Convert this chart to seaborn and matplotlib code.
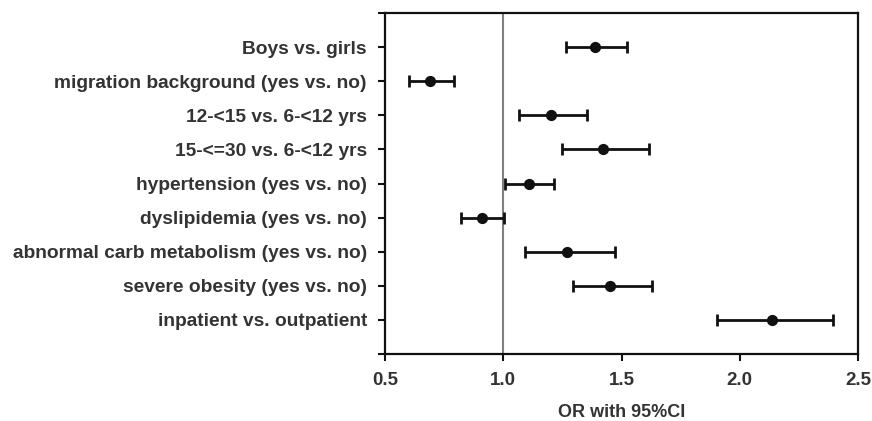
import matplotlib
matplotlib.use("Agg")
import matplotlib.pyplot as plt
import seaborn as sns
import pandas as pd

# -----------------------------
# Данные (OR и 95% ДИ)
# -----------------------------
labels = [
    "Boys vs. girls",
    "migration background (yes vs. no)",
    "12-<15 vs. 6-<12 yrs",
    "15-<=30 vs. 6-<12 yrs",
    "hypertension (yes vs. no)",
    "dyslipidemia (yes vs. no)",
    "abnormal carb metabolism (yes vs. no)",
    "severe obesity (yes vs. no)",
    "inpatient vs. outpatient",
]
odds_ratio = [1.39, 0.69, 1.20, 1.42, 1.11, 0.91, 1.27, 1.45, 2.135]
ci_low     = [1.265, 0.60, 1.067, 1.25, 1.008, 0.82, 1.09, 1.295, 1.905]
ci_high    = [1.525, 0.79, 1.355, 1.618, 1.216, 1.005, 1.474, 1.628, 2.394]
x_ticks    = [0.5, 1.0, 1.5, 2.0, 2.5]

df = pd.DataFrame({"label": labels, "or": odds_ratio,
                   "lo": ci_low, "hi": ci_high})
df["pos"] = range(len(df))

sns.set_theme(style="white")
plt.rcParams["font.family"] = ["Liberation Sans", "DejaVu Sans"]
plt.rcParams["font.weight"] = "bold"

fig = plt.figure(figsize=(8.72, 4.21), dpi=100)
ax = fig.add_axes([0.4415, 0.159, 0.5425, 0.81])

# референсная линия OR = 1
ax.axvline(1.0, color="#808080", lw=1.5, zorder=1)

# доверительные интервалы
ax.errorbar(df["or"], df["pos"],
            xerr=[df["or"] - df["lo"], df["hi"] - df["or"]],
            fmt="none", ecolor="#111111", elinewidth=2,
            capsize=4.5, capthick=2, zorder=2)

# точечные оценки
sns.scatterplot(data=df, x="or", y="pos", ax=ax, color="#111111",
                s=65, edgecolor="#111111", linewidth=0, zorder=3)

ax.set_xlim(0.5, 2.5)
ax.set_ylim(len(df), -1)
ax.set_xticks(x_ticks)
ax.set_xticklabels([f"{t:.1f}" for t in x_ticks])
ax.set_yticks(df["pos"])
ax.set_yticklabels(df["label"])
# засечки по углам рамки, как в оригинале
ax.set_yticks([-1, len(df)], minor=True)

for spine in ax.spines.values():
    spine.set_color("#111111")
    spine.set_linewidth(1.6)

ax.tick_params(axis="both", which="both", direction="out", length=5,
               width=1.5, color="#111111", labelcolor="#333333",
               bottom=True, left=True)
ax.tick_params(axis="x", pad=8, labelsize=13.5)
ax.tick_params(axis="y", pad=8, labelsize=13.75)
for lab in ax.get_xticklabels() + ax.get_yticklabels():
    lab.set_fontweight("bold")

ax.set_xlabel("OR with 95%CI", fontsize=13, fontweight="bold",
              color="#333333", labelpad=11)
ax.set_ylabel("")

fig.savefig("out.png", dpi=100)
